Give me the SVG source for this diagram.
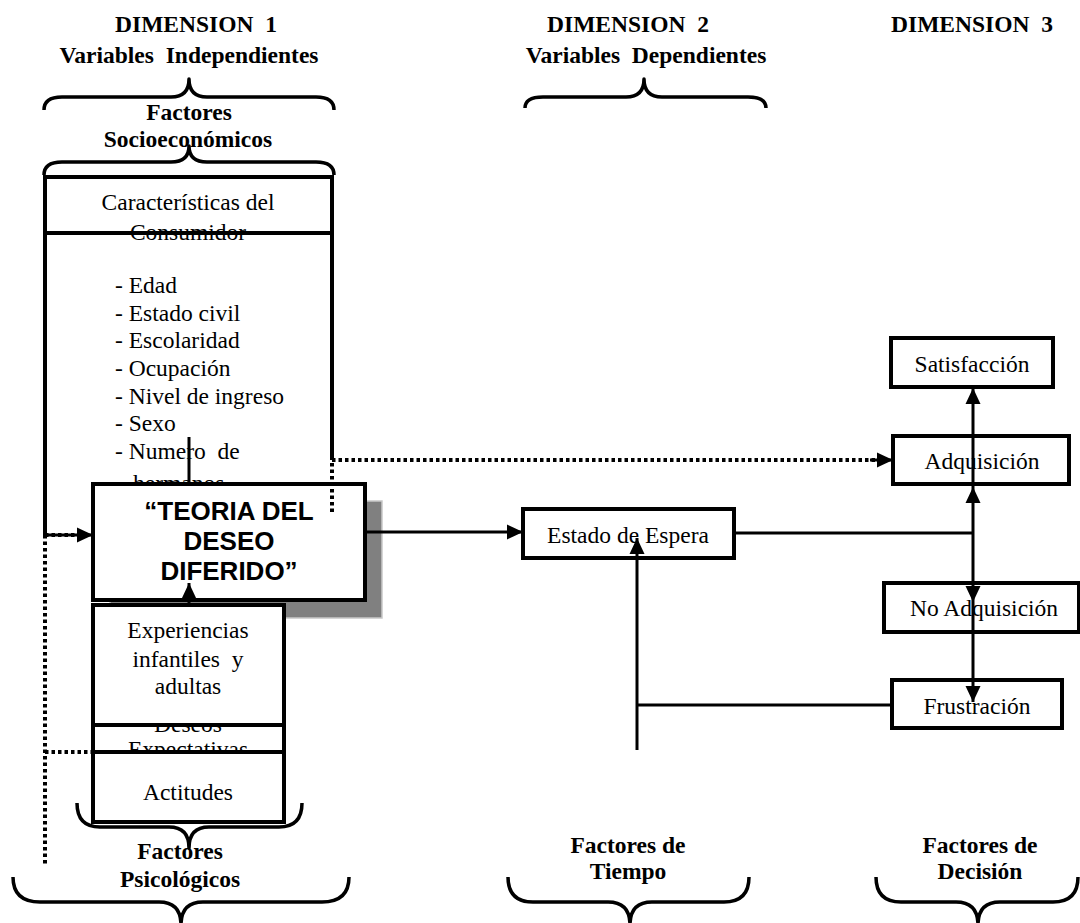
<svg xmlns="http://www.w3.org/2000/svg" width="1080" height="923" viewBox="0 0 1080 923">
<defs>
<style>
.t{font-family:"Liberation Serif","Times New Roman",serif;font-size:23.5px;fill:#000;white-space:pre}
.b{font-weight:bold}
.m{text-anchor:middle}
.box{fill:#fff;stroke:#000;stroke-width:4}
.ln{fill:none;stroke:#000;stroke-width:3}
.dot{fill:none;stroke:#000;stroke-width:4;stroke-dasharray:3.5 3}
.br{fill:none;stroke:#000;stroke-width:3.5;stroke-linejoin:round}
.th{font-family:"Liberation Sans",Arial,sans-serif;font-size:26px;font-weight:bold;text-anchor:middle;fill:#000}
</style>
<marker id="ah" markerUnits="userSpaceOnUse" markerWidth="18" markerHeight="18" viewBox="0 0 18 18" refX="17" refY="9" orient="auto">
<path d="M1,1.5 L17,9 L1,16.5 Z" fill="#000"/>
</marker>
</defs>
<rect width="1080" height="923" fill="#fff"/>

<g id="headers">
<text class="t b m" x="196" y="32" xml:space="preserve">DIMENSION  1</text>
<text class="t b m" x="189" y="63" xml:space="preserve">Variables  Independientes</text>
<text class="t b m" x="628" y="32" xml:space="preserve">DIMENSION  2</text>
<text class="t b m" x="646" y="63" xml:space="preserve">Variables  Dependientes</text>
<text class="t b m" x="972" y="32" xml:space="preserve">DIMENSION  3</text>
<text class="t b m" x="189" y="120">Factores</text>
<text class="t b m" x="188" y="147">Socioeconómicos</text>
<text class="t b m" x="180" y="859">Factores</text>
<text class="t b m" x="180" y="887">Psicológicos</text>
<text class="t b m" x="628" y="853">Factores de</text>
<text class="t b m" x="628" y="879">Tiempo</text>
<text class="t b m" x="980" y="853">Factores de</text>
<text class="t b m" x="980" y="879">Decisión</text>
</g>

<g id="braces">
<path class="br" d="M44,110 Q44,97 62,97 L171,97 Q189,97 189,79 Q189,97 207,97 L316,97 Q334,97 334,110"/>
<path class="br" d="M44,175 Q44,162 62,162 L171,162 Q189,162 189,146 Q189,162 207,162 L316,162 Q334,162 334,175"/>
<path class="br" d="M525,108 Q525,97 543,97 L626,97 Q644,97 644,79 Q644,97 662,97 L748,97 Q766,97 766,108"/>
<path class="br" d="M77,803 Q77,827 100,827 L169,827 Q189,827 189,848 Q189,827 209,827 L279,827 Q302,827 302,803"/>
<path class="br" d="M13,877 Q13,902 40,902 L159,902 Q181,902 181,925 Q181,902 203,902 L322,902 Q349,902 349,877"/>
<path class="br" d="M508,877 Q508,902 533,902 L608,902 Q630,902 630,925 Q630,902 652,902 L724,902 Q749,902 749,877"/>
<path class="br" d="M876,877 Q876,902 901,902 L956,902 Q978,902 978,925 Q978,902 1000,902 L1053,902 Q1078,902 1078,877"/>
</g>

<g id="caracteristicas">
<path class="ln" d="M45,535 L45,177 L332,177 L332,460" style="stroke-width:4"/>
<text class="t m" x="188" y="210">Características del</text>
<text class="t m" x="188" y="240">Consumidor</text>
<line class="ln" x1="45" y1="233" x2="332" y2="233" style="stroke-width:4"/>
<text class="t" x="115" y="293">- Edad</text>
<text class="t" x="115" y="321">- Estado civil</text>
<text class="t" x="115" y="348">- Escolaridad</text>
<text class="t" x="115" y="376">- Ocupación</text>
<text class="t" x="115" y="404">- Nivel de ingreso</text>
<text class="t" x="115" y="431">- Sexo</text>
<text class="t" x="115" y="459" xml:space="preserve">- Numero  de</text>
<text class="t" x="133" y="491">hermanos</text>
</g>

<g id="teoria">
<rect x="110" y="501" width="272" height="117" fill="#808080" stroke="#c8c8c8" stroke-width="1.5"/>
<rect class="box" x="93" y="484" width="272" height="116"/>
<text class="th" x="229" y="520">“TEORIA DEL</text>
<text class="th" x="229" y="550">DESEO</text>
<text class="th" x="229" y="580">DIFERIDO”</text>
</g>

<g id="psicologicos">
<rect class="box" x="93" y="712" width="191" height="50"/>
<text class="t m" x="188" y="732">Deseos</text>
<text class="t m" x="188" y="757">Expectativas</text>
<rect class="box" x="93" y="605" width="191" height="120"/>
<text class="t m" x="188" y="638">Experiencias</text>
<text class="t m" x="188" y="667" xml:space="preserve">infantiles  y</text>
<text class="t m" x="188" y="694">adultas</text>
<rect class="box" x="93" y="752" width="191" height="70"/>
<text class="t m" x="188" y="800">Actitudes</text>
</g>

<g id="estado">
<rect class="box" x="523" y="509" width="211" height="49"/>
<text class="t m" x="628" y="543">Estado de Espera</text>
</g>
<g id="satisfaccion">
<rect class="box" x="891" y="338" width="162" height="49"/>
<text class="t m" x="972" y="372">Satisfacción</text>
</g>
<g id="adquisicion">
<rect class="box" x="893" y="436" width="176" height="48"/>
<text class="t m" x="982" y="469">Adquisición</text>
</g>
<g id="noadquisicion">
<rect class="box" x="884" y="583" width="195" height="49"/>
<text class="t m" x="984" y="616">No Adquisición</text>
</g>
<g id="frustracion">
<rect class="box" x="892" y="680" width="170" height="48"/>
<text class="t m" x="977" y="714">Frustración</text>
</g>

<g id="connectors">
<line class="ln" x1="189" y1="484" x2="189" y2="437"/>
<line class="ln" x1="189" y1="605" x2="189" y2="583" marker-end="url(#ah)"/>
<line class="ln" x1="45" y1="535" x2="93" y2="535" marker-end="url(#ah)"/>
<line class="dot" x1="45" y1="535" x2="78" y2="535"/>
<line class="dot" x1="45" y1="535" x2="45" y2="866"/>
<line class="dot" x1="45" y1="752" x2="93" y2="752"/>
<path class="dot" d="M332,512 L332,460 L878,460"/>
<line class="ln" x1="870" y1="460" x2="893" y2="460" marker-end="url(#ah)"/>
<line class="ln" x1="365" y1="532" x2="523" y2="532" marker-end="url(#ah)"/>
<line class="ln" x1="734" y1="533" x2="973" y2="533"/>
<line class="ln" x1="973" y1="533" x2="973" y2="487" marker-end="url(#ah)"/>
<line class="ln" x1="973" y1="487" x2="973" y2="388" marker-end="url(#ah)"/>
<line class="ln" x1="973" y1="533" x2="973" y2="602" marker-end="url(#ah)"/>
<line class="ln" x1="973" y1="602" x2="973" y2="702" marker-end="url(#ah)"/>
<line class="ln" x1="637" y1="750" x2="637" y2="538" marker-end="url(#ah)"/>
<line class="ln" x1="637" y1="705" x2="892" y2="705"/>
</g>
</svg>
